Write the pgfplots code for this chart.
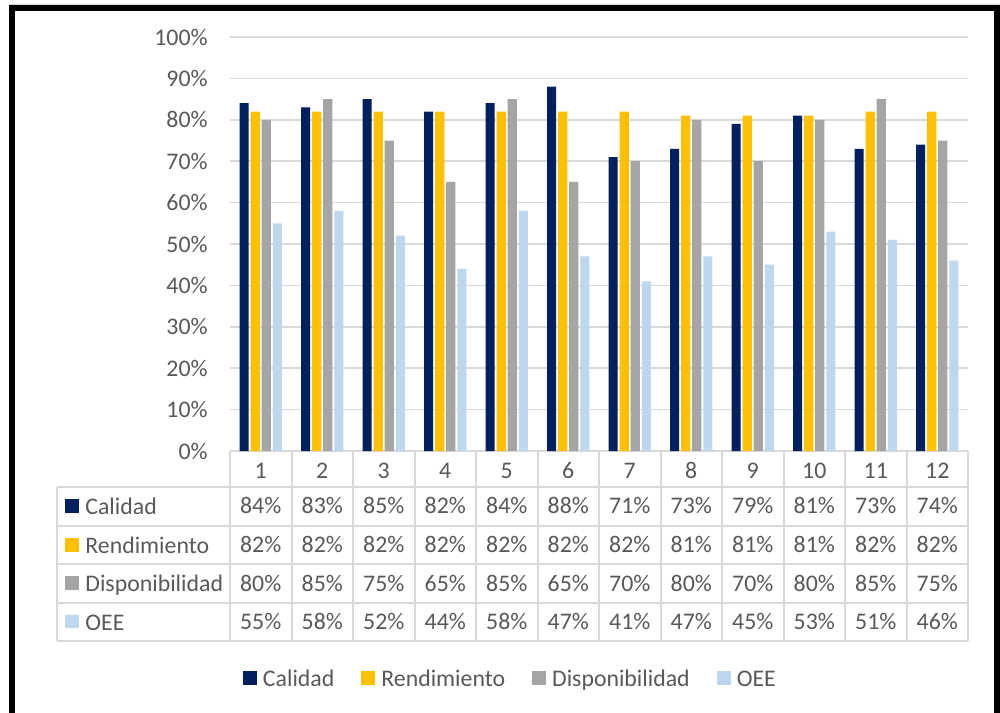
\documentclass[border=0pt]{standalone}
\usepackage{pgfplots}
\usepackage{pgfplotstable}
\pgfplotsset{compat=1.18}
\usepackage{fontspec}
\setmainfont{Carlito}
\definecolor{cCal}{HTML}{002060}
\definecolor{cRen}{HTML}{FFC000}
\definecolor{cDis}{HTML}{A5A5A5}
\definecolor{cOEE}{HTML}{BDD7EE}
\definecolor{txt}{HTML}{595959}
\definecolor{grd}{HTML}{D9D9D9}
\newcommand{\cf}{\fontsize{11.9}{14}\selectfont}
\pgfplotstableread{
x C R D O
1 84 82 80 55
2 83 82 85 58
3 85 82 75 52
4 82 82 65 44
5 84 82 85 58
6 88 82 65 47
7 71 82 70 41
8 73 81 80 47
9 79 81 70 45
10 81 81 80 53
11 73 82 85 51
12 74 82 75 46
}\data
\begin{document}
\begin{tikzpicture}[x=0.5pt,y=-0.5pt]
\useasboundingbox (0,0) rectangle (1000,712);
\fill[white] (0,0) rectangle (1000,712);
\draw[grd, line width=0.5pt] (9,4) -- (1000,4);
\draw[black, line width=3.1pt] (11.85,730) -- (11.85,7.7) -- (997,7.7) -- (997,730);
% data table grid
\begin{scope}[grd, line width=1pt]
 \draw (230,451) -- (968,451);
 \foreach \y in {487,525.5,564,602.5,641} \draw (57,\y) -- (968,\y);
 \foreach \k in {0,...,12} \draw ({230+61.5*\k},451) -- ({230+61.5*\k},641);
 \draw (57,487) -- (57,641);
\end{scope}
\foreach \lab/\col/\yb in {Calidad/cCal/514.3, Rendimiento/cRen/553.3, Disponibilidad/cDis/591.7, OEE/cOEE/630} {
  \fill[\col] (65,{\yb-15.3}) rectangle (79,{\yb-1.6});
  \node[anchor=base west, inner sep=0pt, text=txt, font=\cf] at (85,\yb) {\lab};
}
\begin{axis}[
  at={(115pt,-225.5pt)}, anchor=south west,
  width=369pt, height=207pt, scale only axis,
  xmin=0.5, xmax=12.5, ymin=0, ymax=100,
  clip=false,
  axis line style={draw=none},
  major tick length=0pt,
  ytick={0,10,...,100},
  yticklabel={\pgfmathprintnumber{\tick}\%},
  /pgf/number format/assume math mode=true,
  ymajorgrids, grid style={grd, line width=0.75pt},
  xtick={1,...,12},
  xticklabel style={anchor=base, yshift=-13.65pt, inner sep=0pt},
  yticklabel style={anchor=east, inner sep=0pt, xshift=-11pt},
  tick label style={font=\cf, text=txt},
  legend columns=4,
  legend cell align=left,
  legend image code/.code={\fill[#1,draw=none] (0pt,0.9pt) rectangle (7pt,7.9pt);},
  legend style={at={(0.0176,-0.5529)}, anchor=west, draw=none, fill=none,
    inner sep=0pt, outer sep=0pt, font=\cf, text=txt,
    nodes={inner sep=0pt},
    cells={anchor=base west},
    column sep=3pt,
    /tikz/every even column/.append style={column sep=13.5pt}},
  table nodes/.style={draw=none, forget plot, point meta=explicit,
    nodes near coords={\pgfmathprintnumber{\pgfplotspointmeta}\%},
    nodes near coords align={above},
    every node near coord/.style={font=\cf, text=txt, inner sep=0pt}},
]
\addplot[ybar, bar width=0.148, bar shift=-0.271, fill=cCal, draw=none] table[x=x,y=C]{\data};
\addplot[ybar, bar width=0.148, bar shift=-0.090, fill=cRen, draw=none] table[x=x,y=R]{\data};
\addplot[ybar, bar width=0.148, bar shift=0.090, fill=cDis, draw=none] table[x=x,y=D]{\data};
\addplot[ybar, bar width=0.148, bar shift=0.271, fill=cOEE, draw=none] table[x=x,y=O]{\data};
\legend{Calidad, Rendimiento, Disponibilidad, OEE}
\addplot[table nodes] table[x=x, y expr=-15.29, meta=C]{\data};
\addplot[table nodes] table[x=x, y expr=-24.71, meta=R]{\data};
\addplot[table nodes] table[x=x, y expr=-33.99, meta=D]{\data};
\addplot[table nodes] table[x=x, y expr=-43.24, meta=O]{\data};
\end{axis}
\end{tikzpicture}
\end{document}
